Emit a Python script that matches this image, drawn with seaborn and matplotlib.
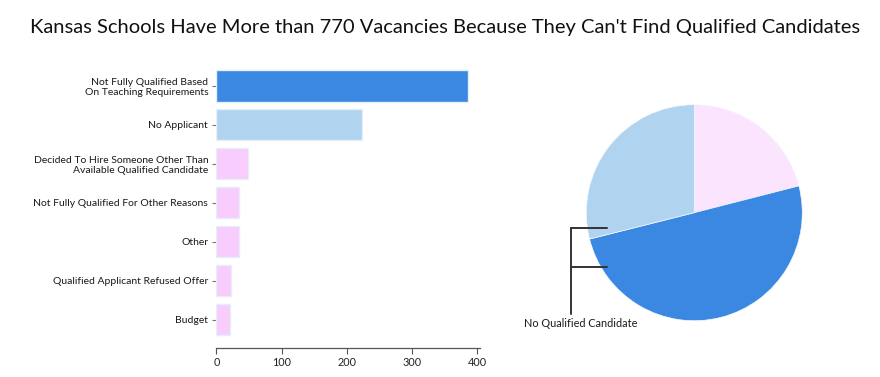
import seaborn as sns
import matplotlib.pyplot as plt
import pandas as pd

reasons = ["Not Fully Qualified Based\nOn Teaching Requirements",
           "No Applicant",
           "Decided To Hire Someone Other Than\nAvailable Qualified Candidate",
           "Not Fully Qualified For Other Reasons",
           "Other",
           "Qualified Applicant Refused Offer",
           "Budget"]
vacancies = [386, 223, 49, 35, 34, 23, 21]
bar_colors = ["#3a88e2", "#b0d4ef", "#f8ccfd", "#f8ccfd", "#f8ccfd", "#f8ccfd", "#f8ccfd"]

# pie groups the small reasons together
pie_labels = ["Other reasons", "Not Fully Qualified Based On Teaching Requirements", "No Applicant"]
pie_values = [sum(vacancies[2:]), vacancies[0], vacancies[1]]
pie_colors = ["#fbe4fd", "#3a88e2", "#b0d4ef"]

sns.set_theme(style="white")
plt.rcParams['font.family'] = ['Lato', 'DejaVu Sans']

df = pd.DataFrame({"reason": reasons, "count": vacancies})

fig = plt.figure(figsize=(8.8, 3.77), dpi=100)

# bar chart
ax = fig.add_axes([0.246, 0.076, 0.299, 0.7475])
sns.barplot(data=df, y="reason", x="count", hue="reason", legend=False,
            palette=dict(zip(reasons, bar_colors)), width=0.8, saturation=1,
            edgecolor="#e6eef8", linewidth=1, ax=ax, orient="h")
ax.set_xlim(0, 404)
ax.set_ylim(6.74, -0.5)
ax.set_xticks([0, 100, 200, 300, 400])
ax.set_xlabel("")
ax.set_ylabel("")
sns.despine(ax=ax, left=True)
ax.spines['bottom'].set_color("#555555")
ax.spines['bottom'].set_linewidth(0.9)
ax.tick_params(axis='x', length=4, width=0.8, color="#555555", labelsize=7.8, labelcolor="#222222", pad=2, bottom=True)
ax.tick_params(axis='y', length=3, width=0.8, color="#777777", labelsize=7.5, labelcolor="#1a1a1a", pad=3, left=True)

# pie chart
pax = fig.add_axes([(694.3 - 108) / 880, (377 - 212.7 - 108) / 377, 216 / 880, 216 / 377])
pax.pie(pie_values, colors=pie_colors, startangle=90, counterclock=False,
        wedgeprops={"linewidth": 0.5, "edgecolor": "#f4f8fd"})
pax.set_xlim(-1, 1)
pax.set_ylim(-1, 1)
pax.set_aspect("equal")

# bracket annotation
bk = "#333333"
pax.plot([-1.142, -1.142], [-0.142, -0.938], color=bk, lw=1.4, clip_on=False)
pax.plot([-1.142, -0.81], [-0.142, -0.142], color=bk, lw=1.4, clip_on=False)
pax.plot([-1.142, -0.81], [-0.503, -0.503], color=bk, lw=1.4, clip_on=False)
pax.text(-1.58, -1.03, "No Qualified Candidate", fontsize=7.8, color="#1a1a1a",
         ha="left", va="center", clip_on=False)

fig.text(0.506, 0.928, "Kansas Schools Have More than 770 Vacancies Because They Can't Find Qualified Candidates",
         ha="center", va="center", fontsize=14.5, color="#111111")

fig.savefig("out.png", dpi=100)
